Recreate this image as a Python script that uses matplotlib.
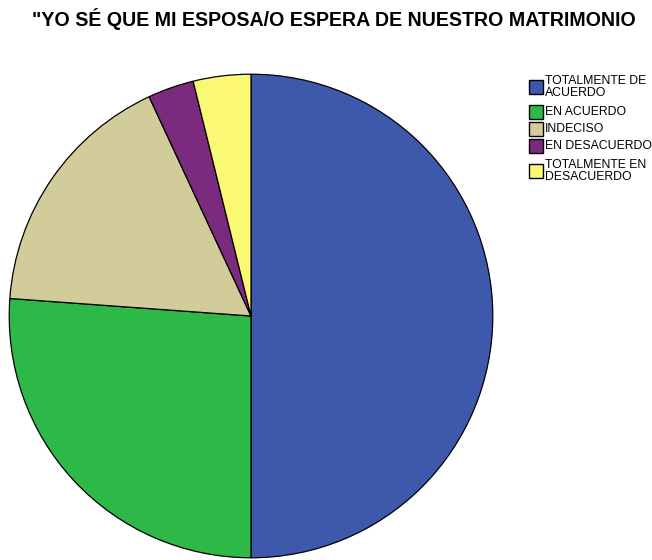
import matplotlib.pyplot as plt
from matplotlib.patches import Rectangle

plt.rcParams['font.family'] = ['Liberation Sans', 'DejaVu Sans']

categories = ['TOTALMENTE DE\nACUERDO', 'EN ACUERDO', 'INDECISO',
              'EN DESACUERDO', 'TOTALMENTE EN\nDESACUERDO']
counts = [65, 34, 22, 4, 5]
colors = ['#3E58AC', '#2EB848', '#D2CC9A', '#7B2B7E', '#FBF873']

W, H = 652, 560
fig = plt.figure(figsize=(W / 100, H / 100), dpi=100)
fig.text(32 / W, 1 - 26 / H, '"YO SÉ QUE MI ESPOSA/O ESPERA DE NUESTRO MATRIMONIO',
         fontsize=14.1, fontweight='bold', ha='left', va='baseline')

ax = fig.add_axes([8 / W, 1 / H, 486 / W, 486 / H])
ax.pie(counts, colors=colors, startangle=90, counterclock=False, radius=1,
       wedgeprops=dict(edgecolor='black', linewidth=0.9))
ax.set_xlim(-1.005, 1.005)
ax.set_ylim(-1.005, 1.005)
ax.axis('off')

# legend laid out by hand (pixel units from the top-left corner)
y = 72
for label, c in zip(categories, colors):
    row_h = 14 if '\n' not in label else 30
    yc = y + row_h / 2
    fig.patches.append(Rectangle((528.5 / W, 1 - (yc + 7) / H), 14 / W, 14 / H,
                                 transform=fig.transFigure, facecolor=c,
                                 edgecolor='black', linewidth=1.0))
    fig.text(545 / W, 1 - yc / H, label, fontsize=8.8, ha='left', va='center',
             linespacing=0.98)
    y += row_h + 3

plt.savefig('out.png', dpi=100)
